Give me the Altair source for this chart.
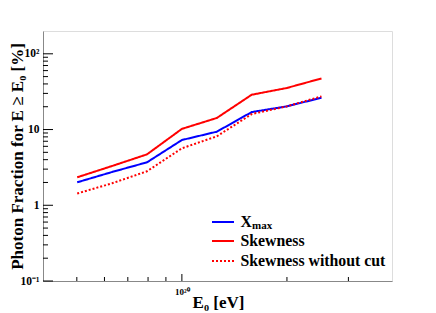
import altair as alt
import pandas as pd

# ---- data ----
energy = [10**19.7, 10**19.8, 10**19.9, 1e20, 10**20.1, 10**20.2, 10**20.3, 10**20.4]
xmax_frac = [2.01, 2.75, 3.69, 7.27, 9.36, 17.0, 20.2, 26.3]
skew_frac = [2.34, 3.3, 4.7, 10.2, 14.2, 28.8, 35.3, 47.3]
skew_nocut_frac = [1.43, 1.95, 2.81, 5.65, 8.13, 16.0, 20.2, 27.4]

series_names = ["Xmax", "Skewness", "Skewness without cut"]
series_colors = ["#0000ff", "#ff0000", "#ff0000"]
series_dash = [[1, 0], [1, 0], [2, 2]]

x_major = [1e20]
x_minor = [5e19, 6e19, 7e19, 8e19, 9e19, 2e20, 3e20]
y_major = [0.1, 1, 10, 100]
y_minor = [m * d for d in (0.1, 1, 10) for m in range(2, 10)]

rows = []
for name, vals in zip(series_names, [xmax_frac, skew_frac, skew_nocut_frac]):
    for e, v in zip(energy, vals):
        rows.append({"E": e, "frac": v, "series": name})
df = pd.DataFrame(rows)

W, H = 349, 250
FONT = "'Liberation Serif', 'Times New Roman', Times, serif"

xscale = alt.Scale(type="log", domain=[4e19, 4e20], nice=False)
yscale = alt.Scale(type="log", domain=[0.1, 200], nice=False)

xaxis = alt.Axis(values=x_major, labelExpr="'10²⁰'", title="E₀ [eV]", grid=False, ticks=False,
                 labelFont=FONT, titleFont=FONT, labelFontWeight="bold", titleFontWeight="bold",
                 labelFontSize=9, labelPadding=6,
                 titleFontSize=17, titleX=175, titleY=26, titleBaseline="alphabetic")
yaxis = alt.Axis(values=y_major, grid=False, ticks=False,
                 labelFont=FONT, titleFont=FONT, labelFontWeight="bold", titleFontWeight="bold",
                 labelExpr="datum.value < 0.5 ? '10⁻¹' : datum.value < 5 ? '1' : datum.value < 50 ? '10' : '10²'",
                 title="Photon Fraction for E ≥ E₀ [%]",
                 labelFontSize=11.5, labelPadding=4,
                 titleFontSize=17, titleX=-21, titleY=125,
                 titleAngle=-90, titleBaseline="alphabetic")

lines = alt.Chart(df).mark_line(strokeWidth=2).encode(
    x=alt.X("E:Q", scale=xscale, axis=xaxis),
    y=alt.Y("frac:Q", scale=yscale, axis=yaxis),
    color=alt.Color("series:N", scale=alt.Scale(domain=series_names, range=series_colors), legend=None),
    strokeDash=alt.StrokeDash("series:N", scale=alt.Scale(domain=series_names, range=series_dash), legend=None),
)

ytick_major = alt.Chart(pd.DataFrame({"v": y_major})).mark_rule(color="black", strokeWidth=1).encode(
    y=alt.Y("v:Q", scale=yscale, axis=yaxis), x=alt.value(0), x2=alt.value(10))
ytick_minor = alt.Chart(pd.DataFrame({"v": y_minor})).mark_rule(color="black", strokeWidth=1).encode(
    y=alt.Y("v:Q", scale=yscale, axis=yaxis), x=alt.value(0), x2=alt.value(5))
xtick_major = alt.Chart(pd.DataFrame({"v": x_major})).mark_rule(color="black", strokeWidth=1).encode(
    x=alt.X("v:Q", scale=xscale, axis=xaxis), y=alt.value(H), y2=alt.value(H - 7))
xtick_minor = alt.Chart(pd.DataFrame({"v": x_minor})).mark_rule(color="black", strokeWidth=1).encode(
    x=alt.X("v:Q", scale=xscale, axis=xaxis), y=alt.value(H), y2=alt.value(H - 4))

one = pd.DataFrame({"a": [0]})
leg_layers = []
leg_y = [191, 210, 230]
for name, col, dash, yy in zip(series_names, series_colors, series_dash, leg_y):
    leg_layers.append(alt.Chart(one).mark_rule(color=col, strokeWidth=2, strokeDash=dash).encode(
        x=alt.value(169), x2=alt.value(191), y=alt.value(yy)))
leg_texts = ["X", "Skewness", "Skewness without cut"]
for t, yy in zip(leg_texts, leg_y):
    leg_layers.append(alt.Chart(one).mark_text(text=t, font=FONT, fontWeight="bold", fontSize=15.8,
                                               align="left", baseline="middle", color="black").encode(
        x=alt.value(197.5), y=alt.value(yy)))
leg_layers.append(alt.Chart(one).mark_text(text="max", font=FONT, fontWeight="bold", fontSize=11,
                                           align="left", baseline="middle", color="black").encode(
    x=alt.value(209), y=alt.value(195)))

chart = alt.layer(lines, ytick_major, ytick_minor, xtick_major, xtick_minor, *leg_layers).properties(
    width=W, height=H,
    autosize=alt.AutoSizeParams(type="none"),
    padding={"left": 35, "top": 23, "right": 36, "bottom": 32},
).configure_view(stroke="#666", strokeWidth=1).configure_axis(
    grid=False, ticks=False, domain=True, domainColor="black", domainWidth=1,
    labelFont=FONT, labelFontWeight="bold", labelColor="black",
    titleFont=FONT, titleFontWeight="bold", titleColor="black",
).configure(background="white")

chart.save("out.html", embed_options={"renderer": "svg", "actions": False})
